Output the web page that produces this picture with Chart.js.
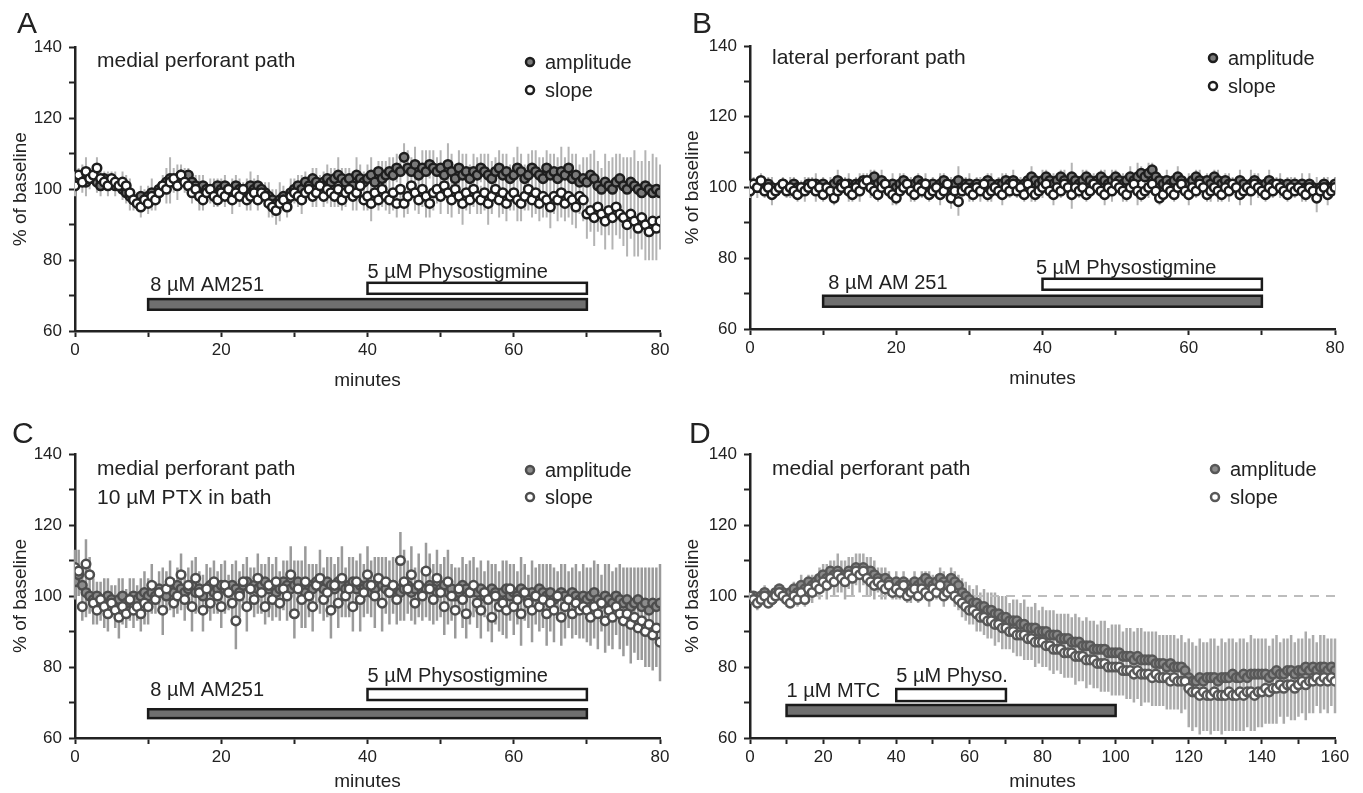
<!DOCTYPE html>
<html>
<head>
<meta charset="utf-8">
<script src="https://cdn.jsdelivr.net/npm/chart.js@4.4.1/dist/chart.umd.min.js"></script>
<style>
  body { margin: 0; background: #fff; width: 1363px; height: 793px; overflow: hidden; position: relative; }
  canvas { position: absolute; }
</style>
</head>
<body>
<canvas id="chartA" width="675" height="400" style="left:0;top:0"></canvas>
<canvas id="chartB" width="688" height="400" style="left:675px;top:0"></canvas>
<canvas id="chartC" width="675" height="393" style="left:0;top:400px"></canvas>
<canvas id="chartD" width="688" height="393" style="left:675px;top:400px"></canvas>
<script>
// sampling grid: A-C every 0.5 min (0..80), D every 1 min (0..160)
const minutesABC = Array.from({length: 161}, (_, i) => i * 0.5);
const minutesD = Array.from({length: 161}, (_, i) => i);

// ---- panel A : medial perforant path
const ampA = [
  102,103,104,102,103,104,102,101,103,102,
  102,101,101,100,99,98,97,97,98,97,
  98,99,98,100,101,102,103,102,103,104,
  103,104,102,101,100,101,100,99,100,101,
  100,101,100,99,101,100,99,100,101,100,
  101,100,99,98,97,96,97,98,97,99,
  100,101,100,102,101,103,102,101,102,103,
  102,103,104,103,102,103,101,104,103,102,
  103,104,102,105,103,104,105,104,106,105,
  109,106,105,107,104,106,105,107,106,105,
  106,104,107,105,103,106,104,105,103,105,
  104,106,105,104,103,105,106,104,105,103,
  104,106,105,103,104,106,105,104,103,106,
  104,105,103,105,104,106,103,104,102,103,
  102,104,103,101,100,102,101,100,102,103,
  101,100,102,101,100,99,101,100,99,100,
  99];
const slopeA = [
  101,104,102,105,103,104,106,103,102,101,
  103,102,101,102,101,99,97,96,95,97,
  96,98,97,99,101,100,102,103,101,104,
  102,101,99,100,98,97,99,100,98,97,
  99,98,100,97,99,98,100,97,98,99,
  97,99,98,96,95,94,96,97,95,98,
  99,98,97,99,100,98,99,101,98,100,
  99,98,100,97,99,100,98,99,101,97,
  98,96,99,97,100,98,97,99,96,100,
  96,98,101,99,97,100,98,96,99,100,
  98,101,99,97,100,98,96,99,97,100,
  98,97,99,96,98,100,97,99,96,98,
  99,97,96,98,100,97,99,96,98,97,
  95,98,97,99,96,98,97,95,98,97,
  93,94,92,95,93,91,94,92,95,93,
  92,90,93,91,89,92,90,88,91,89,
  91];
const semA = [
  3,2,3,4,3,2,3,3,2,3,
  2,3,2,3,3,4,3,2,3,3,
  3,4,3,2,3,4,6,3,4,3,
  3,2,3,3,4,3,2,3,3,2,
  3,3,2,4,3,3,2,3,4,3,
  3,2,3,4,3,4,5,3,3,4,
  3,3,4,3,2,3,4,3,3,4,
  4,3,5,3,4,3,4,5,4,3,
  4,5,4,3,5,4,4,5,4,5,
  4,5,4,5,4,5,6,4,5,4,
  5,4,6,5,4,5,6,5,4,5,
  5,4,5,6,5,4,5,6,5,4,
  5,6,5,4,6,5,6,5,6,5,
  6,5,6,7,5,6,7,6,5,6,
  7,6,8,7,6,8,7,9,8,7,
  8,9,7,10,8,9,10,8,11,9,
  8];
const drugStartA = [10, 40];
const drugEndA = [70, 70];
const drugNamesA = ['8 µM AM251', '5 µM Physostigmine'];

// ---- panel B : lateral perforant path
const ampB = [
  100,101,100,101,100,101,100,99,100,101,
  100,100,101,100,99,100,101,100,101,100,
  101,100,100,101,102,101,100,101,100,101,
  101,102,101,102,103,101,102,101,100,101,
  100,101,102,101,100,101,102,101,101,100,
  101,100,101,102,101,100,101,102,100,101,
  101,100,101,100,101,102,101,100,101,101,
  102,101,102,101,100,101,102,103,102,101,
  102,103,102,101,102,103,102,101,103,102,
  101,102,103,102,101,102,103,102,101,102,
  103,102,101,102,103,102,103,104,103,104,
  105,103,102,101,102,101,102,103,102,101,
  101,102,103,102,101,102,101,103,102,101,
  102,101,100,101,102,101,100,101,102,101,
  100,101,102,101,100,101,100,101,100,101,
  100,101,100,101,100,99,100,101,100,100,
  101];
const slopeB = [
  99,101,100,102,99,100,98,99,100,101,
  99,100,99,98,100,99,100,101,99,100,
  98,100,99,97,99,100,101,99,98,100,
  99,101,102,100,99,98,100,101,99,98,
  97,99,100,101,99,98,100,99,101,98,
  99,100,98,99,101,97,99,96,99,100,
  99,98,100,99,101,98,99,100,99,98,
  100,99,101,99,100,98,101,99,98,99,
  100,101,99,98,100,99,101,100,98,100,
  99,100,98,99,101,100,99,98,100,99,
  101,100,99,98,100,101,99,98,99,100,
  101,99,97,98,100,99,98,100,101,99,
  98,100,99,101,100,98,99,100,99,98,
  100,99,101,100,98,99,100,99,101,100,
  99,98,100,99,101,100,99,98,100,99,
  100,99,98,100,99,97,99,100,98,99,
  100];
const semB = [
  2,2,3,2,2,2,3,2,2,2,
  2,3,2,2,2,3,2,2,3,2,
  2,2,3,2,3,2,2,3,2,2,
  3,2,2,3,2,2,3,2,2,3,
  2,3,2,2,3,2,2,2,3,2,
  2,2,3,2,2,3,2,4,2,2,
  3,2,2,3,2,2,3,2,2,3,
  2,2,3,2,3,2,2,3,2,2,
  3,2,2,3,2,2,3,2,4,2,
  2,3,2,2,3,2,2,3,2,3,
  2,2,3,2,3,2,4,2,2,3,
  2,3,2,2,3,2,2,3,2,2,
  3,2,2,3,2,2,3,2,3,2,
  2,3,2,2,3,2,2,4,2,3,
  2,2,3,2,2,3,2,2,3,2,
  2,3,2,3,2,4,2,2,3,2,
  2];
const drugStartB = [10, 40];
const drugEndB = [70, 70];
const drugNamesB = ['8 µM AM 251', '5 µM Physostigmine'];

// ---- panel C : medial perforant path, 10 uM PTX in bath
const ampC = [
  104,106,103,101,100,99,100,98,99,100,
  99,98,99,100,98,99,100,99,100,101,
  100,101,100,102,101,100,102,101,103,102,
  101,102,103,101,102,100,102,103,101,102,
  103,102,101,103,102,101,103,104,102,103,
  102,103,104,102,103,101,102,104,103,102,
  103,104,102,101,103,102,104,103,102,104,
  103,102,104,103,102,103,104,102,103,102,
  103,101,102,104,103,102,101,103,102,101,
  102,103,101,102,103,101,102,103,102,101,
  102,103,101,102,100,101,103,102,101,102,
  101,102,100,101,102,101,100,101,102,100,
  101,100,102,101,99,101,100,102,101,100,
  101,99,100,101,100,99,101,100,99,100,
  99,100,101,99,98,100,99,98,100,99,
  98,99,97,98,99,97,98,96,98,97,
  98];
const slopeC = [
  108,107,97,109,106,98,96,99,97,95,
  98,96,94,97,95,99,96,97,95,98,
  97,103,99,101,96,102,104,98,100,106,
  99,103,97,105,101,96,102,98,104,100,
  97,103,101,98,93,100,104,97,102,99,
  105,101,97,103,99,104,98,102,100,106,
  95,102,99,104,100,97,103,105,99,101,
  96,103,98,105,100,102,97,104,99,101,
  106,103,100,105,98,104,101,103,99,110,
  104,102,106,98,103,100,107,102,99,105,
  101,97,104,100,96,102,99,95,101,103,
  98,96,101,99,94,100,97,98,96,102,
  97,99,95,101,98,96,100,97,99,95,
  98,96,100,94,97,99,95,98,96,97,
  96,94,97,95,98,93,96,94,97,95,
  93,95,92,94,91,93,90,92,89,91,
  87];
const semC = [
  5,6,4,7,5,6,4,5,6,5,
  4,5,6,5,4,6,5,4,5,6,
  5,6,4,5,7,5,6,4,5,6,
  6,5,7,6,5,6,7,5,6,5,
  6,7,5,6,8,6,5,7,6,5,
  7,6,5,8,6,7,5,6,7,8,
  7,6,8,10,6,7,5,8,6,7,
  8,6,7,9,6,8,7,6,9,7,
  8,7,9,6,8,7,9,8,7,8,
  9,7,8,6,9,7,8,9,7,8,
  7,8,9,7,8,6,8,7,9,8,
  7,8,6,9,7,8,7,9,8,7,
  8,7,9,8,7,9,8,7,8,9,
  8,9,7,8,9,8,7,9,8,9,
  9,8,9,10,8,9,10,9,8,10,
  10,9,11,10,9,11,10,12,10,11,
  11];
const drugStartC = [10, 40];
const drugEndC = [70, 70];
const drugNamesC = ['8 µM AM251', '5 µM Physostigmine'];

// ---- panel D : medial perforant path, MTC
const ampD = [
  100,100,99,100,101,100,99,101,102,101,
  100,101,102,101,103,102,104,103,104,105,
  106,105,107,106,107,106,105,107,106,108,
  107,108,106,107,106,105,104,105,104,103,
  104,103,104,103,102,104,103,104,105,104,
  103,104,105,104,103,105,104,103,101,100,
  99,98,98,97,97,96,96,95,95,94,
  94,93,93,93,92,92,91,91,91,90,
  90,90,89,89,89,88,88,88,87,87,
  87,86,86,86,85,85,85,85,84,84,
  84,84,83,83,83,82,83,82,82,82,
  82,81,81,81,80,81,80,80,80,79,
  77,76,76,77,76,77,77,77,76,77,
  77,77,78,77,77,78,77,78,78,78,
  78,78,77,78,79,78,78,79,79,78,
  79,79,80,79,80,79,80,80,79,80,
  79];
const slopeD = [
  100,99,98,99,100,98,99,100,101,100,
  99,98,100,99,101,99,102,101,103,102,
  104,103,105,104,106,105,104,106,105,107,
  106,107,105,104,103,104,103,102,103,101,
  102,101,103,100,101,102,100,102,101,100,
  102,101,103,100,101,102,100,99,98,97,
  96,96,95,94,94,93,93,92,92,91,
  91,90,90,89,89,89,88,88,87,87,
  87,86,86,85,85,85,84,84,84,83,
  83,83,82,82,82,81,81,81,80,80,
  80,80,79,79,79,78,79,78,78,78,
  77,78,77,77,77,76,77,76,76,76,
  74,73,73,72,73,72,72,73,72,72,
  72,73,72,72,73,72,73,73,72,73,
  73,74,73,74,74,75,74,75,75,74,
  75,76,75,76,76,77,76,77,76,77,
  76];
const semD = [
  1,1,2,1,2,1,2,2,1,2,
  2,1,2,2,3,2,2,3,2,3,
  3,4,3,4,5,4,5,4,5,4,
  5,4,5,4,4,3,4,3,3,2,
  3,2,3,2,3,3,2,3,2,3,
  3,2,3,3,2,3,3,3,4,4,
  4,4,5,4,5,5,5,6,5,6,
  6,5,6,6,6,7,6,6,7,6,
  7,6,7,7,6,7,7,7,7,8,
  7,7,8,7,8,7,8,8,7,8,
  8,8,7,8,8,8,8,9,8,8,
  8,9,8,8,9,8,9,8,9,8,
  11,11,10,11,11,10,11,11,10,11,
  10,11,10,10,11,10,10,11,10,10,
  10,10,9,10,10,9,10,9,10,9,
  9,9,10,9,9,8,9,9,9,8,
  9];
const drugStartD = [10, 40];
const drugEndD = [100, 70];
const drugNamesD = ['1 µM MTC', '5 µM Physo.'];
const baselineLevelD = 100;
const baselineSpanD = [0, 160];

const FONT = '"Liberation Sans", Arial, Helvetica, sans-serif';
Chart.defaults.font.family = FONT;
Chart.defaults.color = '#222';

function circle(ctx, x, y, r, fill, edge, w) {
  ctx.beginPath();
  ctx.arc(x, y, r, 0, Math.PI * 2);
  ctx.fillStyle = fill;
  ctx.fill();
  ctx.lineWidth = w;
  ctx.strokeStyle = edge;
  ctx.stroke();
}

// error bars behind the points, drug bars / labels / legend on top
const decor = {
  id: 'decor',
  beforeDatasetsDraw(chart, args, o) {
    const ctx = chart.ctx, xs = chart.scales.x, ys = chart.scales.y;
    ctx.save();
    ctx.strokeStyle = o.errColor;
    ctx.lineWidth = o.errWidth;
    ctx.beginPath();
    chart.data.datasets.forEach(ds => {
      if (!ds.errors) return;
      ds.data.forEach((p, i) => {
        const px = xs.getPixelForValue(p.x);
        ctx.moveTo(px, ys.getPixelForValue(p.y - ds.errors[i]));
        ctx.lineTo(px, ys.getPixelForValue(p.y + ds.errors[i]));
      });
    });
    ctx.stroke();
    ctx.restore();
  },
  afterDraw(chart, args, o) {
    const ctx = chart.ctx, xs = chart.scales.x, ys = chart.scales.y;
    ctx.save();
    // drug application bars
    o.drugStart.forEach((s, i) => {
      const x0 = xs.getPixelForValue(s), x1 = xs.getPixelForValue(o.drugEnd[i]);
      const y0 = ys.getPixelForValue(o.barLevels[i][1]), y1 = ys.getPixelForValue(o.barLevels[i][0]);
      ctx.fillStyle = o.barFills[i];
      ctx.fillRect(x0, y0, x1 - x0, y1 - y0);
      ctx.strokeStyle = '#1a1a1a';
      ctx.lineWidth = 2.5;
      ctx.strokeRect(x0, y0, x1 - x0, y1 - y0);
      ctx.fillStyle = '#222';
      ctx.font = '20px ' + FONT;
      ctx.textAlign = 'left';
      ctx.textBaseline = 'alphabetic';
      ctx.fillText(o.drugNames[i], xs.getPixelForValue(o.labelAt[i][0]), ys.getPixelForValue(o.labelAt[i][1]));
    });
    // panel letter
    ctx.font = '30px ' + FONT;
    ctx.fillText(o.letter, o.letterPos[0], o.letterPos[1]);
    // description
    ctx.font = '21px ' + FONT;
    o.notes.forEach((t, i) => ctx.fillText(t, o.notePos[0], o.notePos[1] + i * 29));
    // legend
    const L = o.legend;
    circle(ctx, L.x, L.y, 4, o.ampFill, o.edge, 2.5);
    circle(ctx, L.x, L.y + L.gap, 4, '#fff', o.edge, 2.5);
    ctx.font = '20px ' + FONT;
    ctx.fillStyle = '#222';
    ctx.textBaseline = 'middle';
    ctx.fillText('amplitude', L.x + 15, L.y + 1);
    ctx.fillText('slope', L.x + 15, L.y + L.gap + 1);
    ctx.restore();
  }
};

function makePanel(id, p) {
  const pts = ys => p.minutes.map((t, i) => ({x: t, y: ys[i]}));
  const datasets = [
    { label: 'slope', data: pts(p.slope), errors: p.sem, order: 1,
      pointRadius: 4.3, pointBorderWidth: 2.5, pointBackgroundColor: '#fff', pointBorderColor: p.edge },
    { label: 'amplitude', data: pts(p.amp), errors: p.sem, order: 2,
      pointRadius: 4.3, pointBorderWidth: 2.5, pointBackgroundColor: p.ampFill, pointBorderColor: p.edge }
  ];
  if (p.refLine) {
    datasets.push({ label: 'baseline', showLine: true, order: 3,
      data: p.refLine.span.map(t => ({x: t, y: p.refLine.level})),
      borderColor: '#bdbdbd', borderWidth: 2, borderDash: [9, 7], pointRadius: 0 });
  }
  const axis = {
    border: { display: true, color: '#222', width: 2.5 },
    grid: { drawOnChartArea: false, drawTicks: true, tickLength: 6, tickWidth: 2, color: '#222' }
  };
  new Chart(document.getElementById(id), {
    type: 'scatter',
    data: { datasets },
    plugins: [decor],
    options: {
      responsive: false,
      animation: false,
      events: [],
      layout: { padding: { left: 0, top: p.top, right: p.right, bottom: 0 } },
      scales: {
        x: Object.assign({}, axis, {
          type: 'linear', min: 0, max: p.xMax,
          afterFit(s) { s.height = p.xBand; },
          ticks: { stepSize: 10, autoSkip: false, maxRotation: 0, padding: 3,
                   font: { size: 17 }, color: '#222',
                   callback: v => (v % 20 === 0 ? v : '') },
          title: { display: true, text: 'minutes', font: { size: 19 }, color: '#222',
                   padding: { top: 0, bottom: p.xTitlePad } }
        }),
        y: Object.assign({}, axis, {
          min: 60, max: 140,
          afterFit(s) { s.width = 75; },
          ticks: { stepSize: 10, autoSkip: false, padding: 7,
                   font: { size: 17 }, color: '#222',
                   callback: v => (v % 20 === 0 ? v : '') },
          title: { display: true, text: '% of baseline', font: { size: 19 }, color: '#222',
                   padding: { top: p.yTitlePad, bottom: 0 } }
        })
      },
      plugins: {
        legend: { display: false },
        tooltip: { enabled: false },
        decor: {
          errColor: p.errColor, errWidth: p.errWidth, edge: p.edge, ampFill: p.ampFill,
          drugStart: p.drugStart, drugEnd: p.drugEnd, drugNames: p.drugNames,
          barLevels: p.barLevels, barFills: ['#6f6f6f', '#ffffff'], labelAt: p.labelAt,
          letter: p.letter, letterPos: p.letterPos, notes: p.notes, notePos: p.notePos,
          legend: p.legend
        }
      }
    }
  });
}

makePanel('chartA', {
  minutes: minutesABC, amp: ampA, slope: slopeA, sem: semA, xMax: 80,
  drugStart: drugStartA, drugEnd: drugEndA, drugNames: drugNamesA,
  barLevels: [[66, 69], [70.5, 73.6]], labelAt: [[10.3, 71.3], [40, 75]],
  top: 47.5, right: 15, xBand: 69, xTitlePad: 8, yTitlePad: 9,
  edge: '#1e1e1e', ampFill: '#7a7a7a', errColor: '#b4b4b4', errWidth: 2,
  letter: 'A', letterPos: [17, 33], notes: ['medial perforant path'], notePos: [97, 67],
  legend: { x: 530, y: 62, gap: 28 }
});
makePanel('chartB', {
  minutes: minutesABC, amp: ampB, slope: slopeB, sem: semB, xMax: 80,
  drugStart: drugStartB, drugEnd: drugEndB, drugNames: drugNamesB,
  barLevels: [[66.3, 69.4], [71.1, 74.2]], labelAt: [[10.7, 71.4], [39.1, 75.6]],
  top: 46, right: 28, xBand: 71, xTitlePad: 10, yTitlePad: 6,
  edge: '#1e1e1e', ampFill: '#7a7a7a', errColor: '#b4b4b4', errWidth: 2,
  letter: 'B', letterPos: [17, 33], notes: ['lateral perforant path'], notePos: [97, 64],
  legend: { x: 538, y: 58, gap: 28 }
});
makePanel('chartC', {
  minutes: minutesABC, amp: ampC, slope: slopeC, sem: semC, xMax: 80,
  drugStart: drugStartC, drugEnd: drugEndC, drugNames: drugNamesC,
  barLevels: [[65.6, 68.1], [70.7, 73.8]], labelAt: [[10.3, 71.8], [40, 75.7]],
  top: 54, right: 15, xBand: 55, xTitlePad: 0, yTitlePad: 9,
  edge: '#4d4d4d', ampFill: '#8c8c8c', errColor: '#9a9a9a', errWidth: 2.5,
  letter: 'C', letterPos: [12, 43], notes: ['medial perforant path', '10 µM PTX in bath'], notePos: [97, 75],
  legend: { x: 530, y: 70, gap: 27 }
});
makePanel('chartD', {
  minutes: minutesD, amp: ampD, slope: slopeD, sem: semD, xMax: 160,
  drugStart: drugStartD, drugEnd: drugEndD, drugNames: drugNamesD,
  barLevels: [[66.2, 69.3], [70.4, 73.8]], labelAt: [[10, 71.5], [40, 75.7]],
  refLine: { level: baselineLevelD, span: baselineSpanD },
  top: 54, right: 28, xBand: 55, xTitlePad: 0, yTitlePad: 6,
  edge: '#585858', ampFill: '#8a8a8a', errColor: '#ababab', errWidth: 2.5,
  letter: 'D', letterPos: [14, 43], notes: ['medial perforant path'], notePos: [97, 75],
  legend: { x: 540, y: 69, gap: 28 }
});
</script>
</body>
</html>
